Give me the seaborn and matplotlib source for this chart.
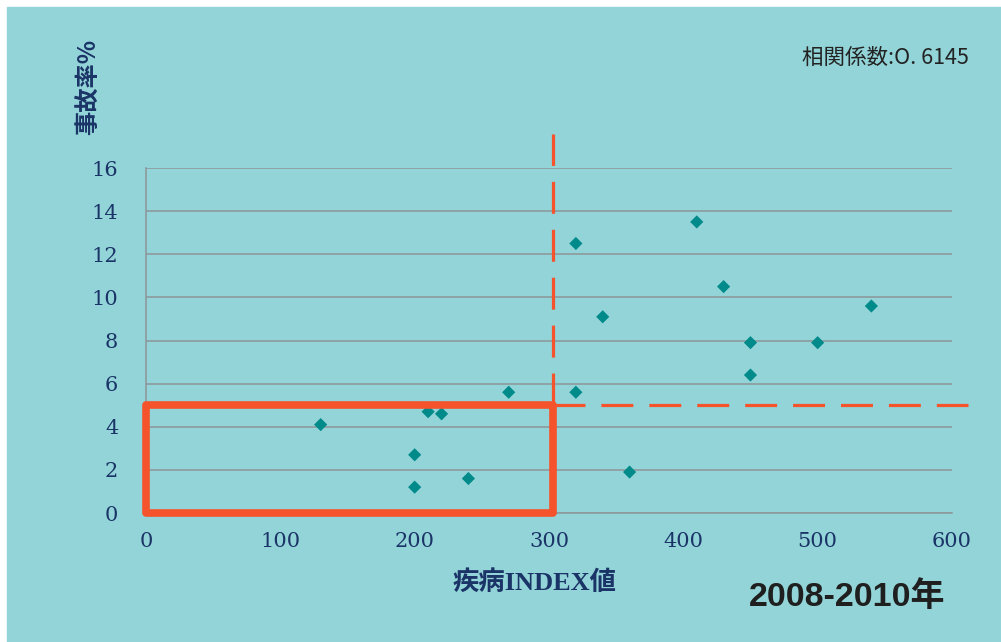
import matplotlib
matplotlib.use("Agg")
import matplotlib.pyplot as plt
import matplotlib.patches as mpatches
import seaborn as sns
import pandas as pd

# 疾病INDEX値 と 事故率(%)
index_vals = [130, 210, 220, 200, 200, 240, 270, 320, 320, 340, 360, 410, 430, 450, 450, 500, 540]
accident_rate = [4.1, 4.7, 4.6, 2.7, 1.2, 1.6, 5.6, 12.5, 5.6, 9.1, 1.9, 13.5, 10.5, 7.9, 6.4, 7.9, 9.6]

x_ticks = [0, 100, 200, 300, 400, 500, 600]
y_ticks = [0, 2, 4, 6, 8, 10, 12, 14, 16]
threshold_x = 303
threshold_y = 5

df = pd.DataFrame({"index": index_vals, "rate": accident_rate})

bg = "#92D4D8"
navy = "#1B3467"
red = "#F4532B"

sns.set_style("white")
plt.rcParams["font.family"] = ["Noto Sans CJK JP", "DejaVu Sans"]

fig = plt.figure(figsize=(10.01, 6.42), dpi=100, facecolor="white")
fig.patches.append(mpatches.Rectangle((7 / 1001, 0), 1, 1 - 7 / 642,
                                      transform=fig.transFigure, color=bg, zorder=-10))
ax = fig.add_axes([0.1459, 0.2009, 0.951 - 0.1459, 0.7383 - 0.2009])
ax.set_facecolor(bg)

sns.scatterplot(data=df, x="index", y="rate", marker="D", s=45,
                color="#008A8A", edgecolor="none", ax=ax, zorder=5)

ax.set_xlim(0, 600)
ax.set_ylim(0, 16)
ax.set_xticks(x_ticks)
ax.set_yticks(y_ticks)
ax.set_xticklabels([str(v) for v in x_ticks], fontfamily="DejaVu Serif", fontsize=15, color=navy)
ax.set_yticklabels([str(v) for v in y_ticks], fontfamily="DejaVu Serif", fontsize=15, color=navy)
ax.tick_params(axis="x", length=4, direction="in", color="#8a9a9c", pad=14)
ax.tick_params(axis="y", length=0, pad=20)
ax.yaxis.grid(True, color="#8e9a9c", linewidth=1.2)
ax.set_axisbelow(True)
for side in ["top", "right"]:
    ax.spines[side].set_visible(False)
for side in ["left", "bottom"]:
    ax.spines[side].set_color("#8e9a9c")
    ax.spines[side].set_linewidth(1.2)

ax.set_xlabel("")
ax.set_ylabel("")
fig.text(535 / 1001, 1 - 583 / 642, "疾病INDEX値", fontsize=19, fontweight="bold", color=navy,
         ha="center", va="center", family=["Liberation Serif", "Noto Sans CJK JP"])
fig.text(0.089, 0.94, "事故率%", rotation=90, fontsize=17.5, fontweight="bold",
         color=navy, ha="center", va="top")

# 閾値の破線
dash = (0, (10, 5))
ax.plot([threshold_x, threshold_x], [threshold_y, 17.6], linestyle=dash,
        color=red, linewidth=2.3, clip_on=False, zorder=4)
ax.plot([threshold_x, 612], [threshold_y, threshold_y], linestyle=dash,
        color=red, linewidth=2.3, clip_on=False, zorder=4)

# 低リスク領域の枠
ax.add_patch(mpatches.Rectangle((0, 0), threshold_x, threshold_y, fill=False,
                                edgecolor=red, linewidth=5.5, clip_on=False,
                                joinstyle="round", zorder=6))

fig.text(0.968, 0.91, "相関係数:O. 6145", fontsize=15.5, color="#222222", ha="right", va="center")
fig.text(0.944, 0.07, "2008-2010年", fontsize=24.5, fontweight="bold", color="#1f1f1f",
         ha="right", va="center", family=["Liberation Sans", "Noto Sans CJK JP"])

fig.savefig("out.png", dpi=100, facecolor=fig.get_facecolor())
